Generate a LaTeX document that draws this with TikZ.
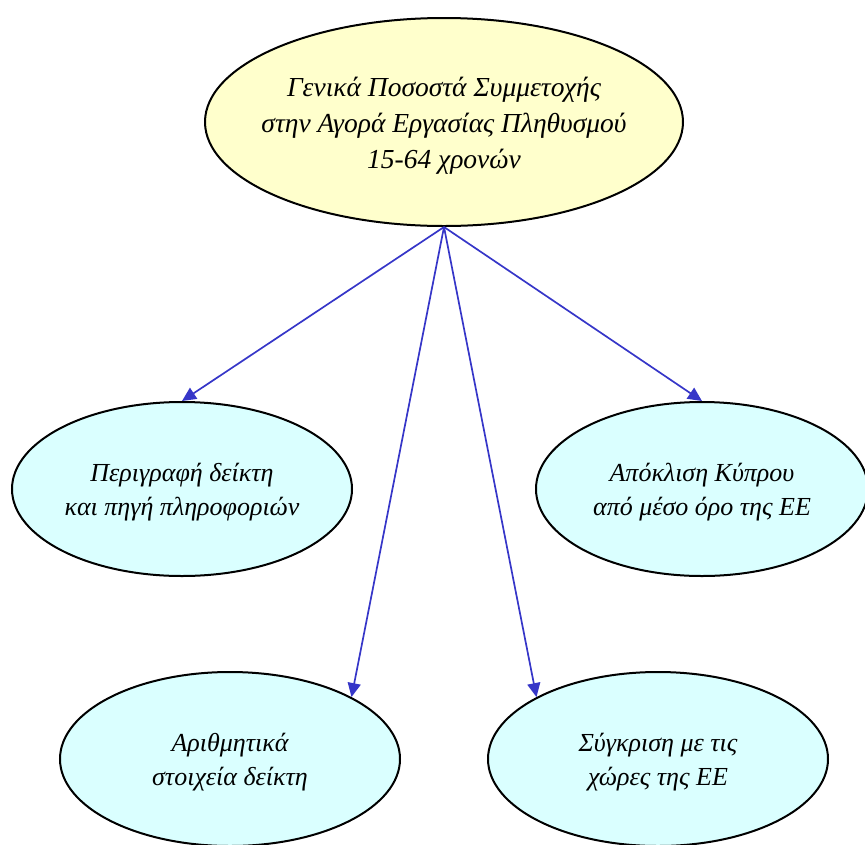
\documentclass[tikz,border=0pt]{standalone}
\usepackage{fontspec}
\setmainfont{Liberation Serif}
\usetikzlibrary{shapes.geometric,arrows.meta}
\definecolor{topfill}{HTML}{FFFFCC}
\definecolor{subfill}{HTML}{DAFFFF}
\definecolor{arrowblue}{HTML}{3636C8}
\begin{document}
\begin{tikzpicture}[x=1pt,y=-1pt,
  bubble/.style={ellipse,draw=black,line width=2pt,inner sep=0pt},
  topbubble/.style={bubble,fill=topfill,minimum width=478pt,minimum height=208pt},
  subbubble/.style={bubble,fill=subfill,minimum width=340pt,minimum height=174pt},
  toptext/.style={align=center,inner sep=0pt,font=\fontsize{27.5}{36}\selectfont\itshape},
  subtext/.style={align=center,inner sep=0pt,font=\fontsize{26}{34}\selectfont\itshape},
  link/.style={draw=arrowblue,line width=1.7pt,-{Triangle[length=14pt,width=13pt]}}]
\useasboundingbox (0,0) rectangle (865,844);
\node[topbubble] (top) at (444,122) {};
\node[toptext] (toptxt) at (444,126) {Γενικά Ποσοστά Συμμετοχής\\στην Αγορά Εργασίας Πληθυσμού\\15-64 χρονών};
\node[subbubble] (lm) at (182,489) {};
\node[subtext] (lmtxt) at (182,492) {Περιγραφή δείκτη\\και πηγή πληροφοριών};
\node[subbubble,minimum width=332pt] (rm) at (702,489) {};
\node[subtext] (rmtxt) at (702,492) {Απόκλιση Κύπρου\\από μέσο όρο της ΕΕ};
\node[subbubble] (bl) at (230,759) {};
\node[subtext] (bltxt) at (230,762) {Αριθμητικά\\στοιχεία δείκτη};
\node[subbubble] (br) at (658,759) {};
\node[subtext] (brtxt) at (658,762) {Σύγκριση με τις\\χώρες της ΕΕ};
\draw[link] (top.south) -- (lm.north);
\draw[link] (top.south) -- (rm.north);
\draw[link] (top.south) -- (bl.27);
\draw[link] (top.south) -- (br.153);
\end{tikzpicture}
\end{document}
